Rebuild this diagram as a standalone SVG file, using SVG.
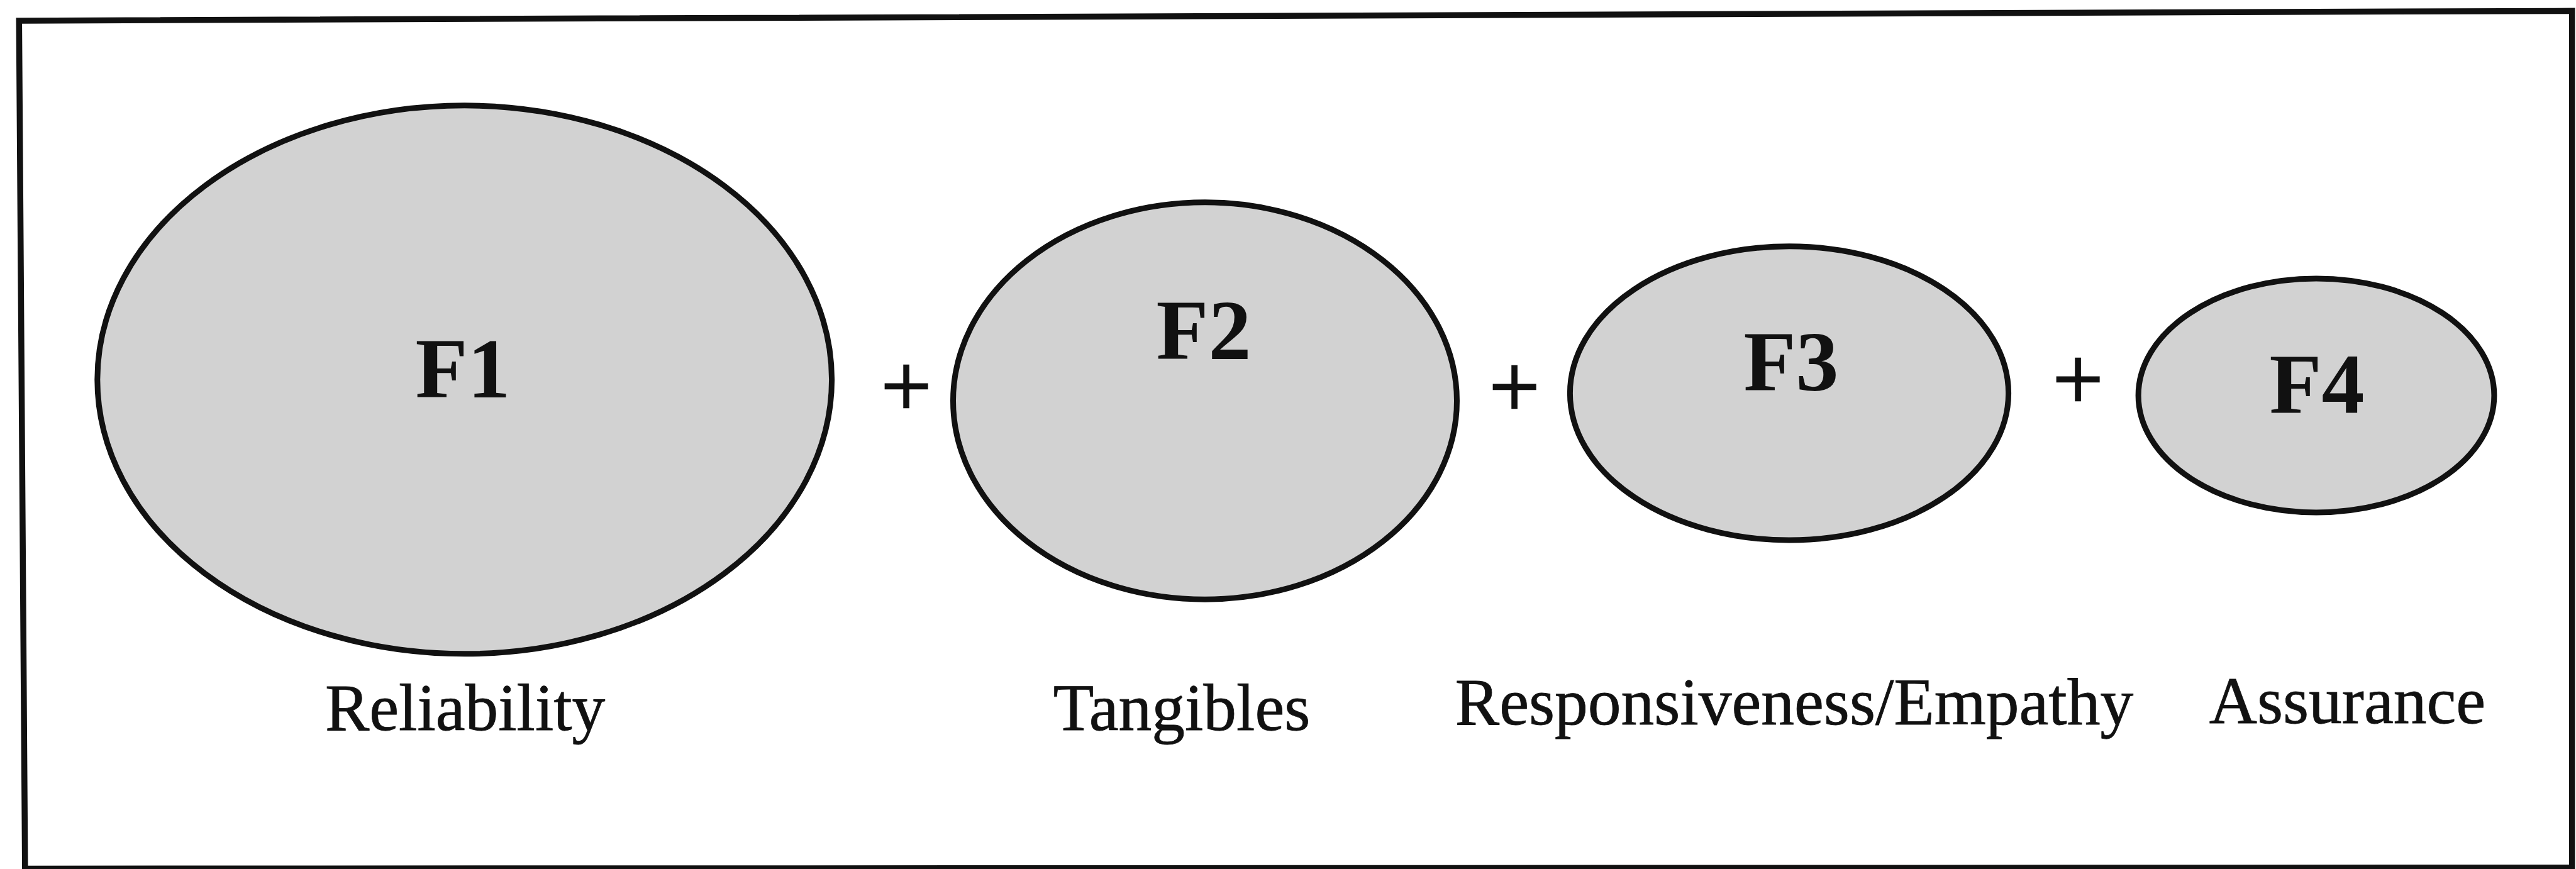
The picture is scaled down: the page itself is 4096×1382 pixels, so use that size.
<svg xmlns="http://www.w3.org/2000/svg" width="4096" height="1382" viewBox="0 0 4096 1382">
<style>
.factor{fill:#d2d2d2;stroke:#111;stroke-width:9}
.flabel{font-family:"Liberation Serif",serif;font-weight:bold;font-size:136px;fill:#111;text-anchor:middle}
.name{font-family:"Liberation Serif",serif;font-size:105.5px;fill:#111;stroke:#111;stroke-width:0.8;text-anchor:middle}
.plus{font-family:"Liberation Serif",serif;font-size:143px;fill:#111;stroke:#111;stroke-width:2.5;text-anchor:middle}
</style>
<rect x="0" y="0" width="4096" height="1382" fill="#fff"/>
<path id="frame" d="M30.3,32.9 L4089.7,17.3 L4089.7,1379.7 L39.8,1381.4 Z" fill="none" stroke="#111" stroke-width="9.5"/>
<g id="F1">
<ellipse class="factor" cx="738.7" cy="603.8" rx="583.9" ry="436"/>
<text class="flabel" x="736" y="632.3">F1</text>
<text class="name" x="739.6" y="1161">Reliability</text>
</g>
<g id="F2">
<ellipse class="factor" cx="1916" cy="637.5" rx="400.5" ry="315.7"/>
<text class="flabel" x="1914" y="571">F2</text>
<text class="name" x="1879" y="1161">Tangibles</text>
</g>
<g id="F3">
<ellipse class="factor" cx="2845" cy="625.4" rx="348.6" ry="233.6"/>
<text class="flabel" x="2848" y="621">F3</text>
<text class="name" x="2853" y="1152">Responsiveness/Empathy</text>
</g>
<g id="F4">
<ellipse class="factor" cx="3683" cy="628.9" rx="282.9" ry="186"/>
<text class="flabel" x="3684" y="656.5">F4</text>
<text class="name" x="3732.5" y="1149.6">Assurance</text>
</g>
<g id="connectors">
<text class="plus" x="1441" y="661.7">+</text>
<text class="plus" x="2408" y="662.6">+</text>
<text class="plus" x="3304" y="650.5">+</text>
</g>
</svg>
